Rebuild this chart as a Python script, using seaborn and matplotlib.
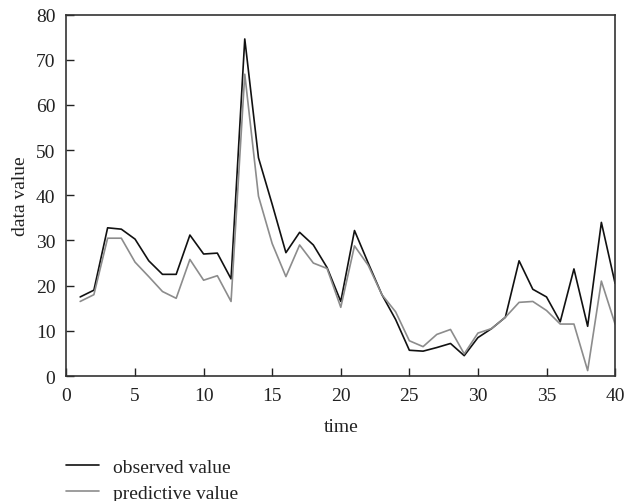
import numpy as np
import pandas as pd
import seaborn as sns
import matplotlib.pyplot as plt

# valores
tiempo = list(range(1, 41))
observado = [17.5, 19, 32.8, 32.5, 30.3, 25.5, 22.5, 22.5, 31.2, 27,
             27.2, 21.5, 74.6, 48.3, 38, 27.3, 31.8, 29, 24, 16.5,
             32.2, 25, 18, 12.5, 5.7, 5.5, 6.3, 7.2, 4.5, 8.5,
             10.5, 13, 25.5, 19.2, 17.5, 12, 23.7, 11, 34, 20.5]
prediccion = [16.5, 18, 30.5, 30.5, 25.2, 22, 18.7, 17.2, 25.8, 21.2,
              22.2, 16.5, 66.8, 39.8, 29.3, 22, 29, 25, 23.8, 15.2,
              28.8, 24.5, 18, 14.2, 7.8, 6.5, 9.2, 10.3, 4.9, 9.5,
              10.5, 13, 16.3, 16.5, 14.5, 11.5, 11.5, 1.2, 21, 11.5]

df = pd.DataFrame({"time": tiempo,
                   "observed value": observado,
                   "predictive value": prediccion})
largo = df.melt(id_vars="time", var_name="serie", value_name="data value")

sns.set_theme(style="ticks")
plt.rcParams['font.family'] = ['Liberation Serif', 'DejaVu Serif']
plt.rcParams['font.size'] = 14

fig = plt.figure(figsize=(6.27, 5.02), dpi=100)
ax = fig.add_axes([0.106, 0.249, 0.875, 0.72])

sns.lineplot(data=largo, x="time", y="data value", hue="serie",
             palette={"observed value": "#111111", "predictive value": "#8c8c8c"},
             linewidth=1.2, ax=ax, legend=True)

ax.set_xlim(0, 40)
ax.set_ylim(0, 80)
ax.set_xticks(range(0, 41, 5))
ax.set_yticks(range(0, 81, 10))
ax.tick_params(direction="in", length=6, width=1, colors="#222222",
               labelsize=14, labelcolor="#222222",
               bottom=True, left=True, top=False, right=False)
ax.tick_params(axis="x", pad=8)
ax.tick_params(axis="y", pad=8)
for s in ax.spines.values():
    s.set_color("#333333")
    s.set_linewidth(1.2)
ax.set_xlabel("time", fontsize=14, color="#222222", labelpad=10)
ax.set_ylabel("data value", fontsize=14, color="#222222", labelpad=5)

leg = ax.legend(loc="upper left", bbox_to_anchor=(-0.015, -0.207), frameon=False,
                fontsize=14, handlelength=1.7, handletextpad=0.72,
                labelspacing=0.4, borderaxespad=0)
for t in leg.get_texts():
    t.set_color("#222222")

fig.savefig("out.png", dpi=100)
